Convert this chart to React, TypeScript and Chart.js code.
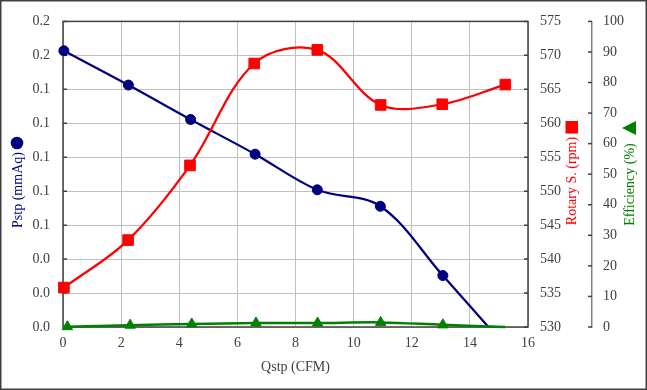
import React, { useEffect, useRef } from 'react';
import { Chart, registerables } from 'chart.js';

Chart.register(...registerables);

// ---- data ----
const qPstp = [0.03, 2.25, 4.39, 6.61, 8.75, 10.92, 13.07, 14.64];
const pstp = [0.1627, 0.1425, 0.1222, 0.1018, 0.0808, 0.0711, 0.0303, 0];
const pstpMarker = [5, 5, 5, 5, 5, 5, 5, 0];

const qRpm = [0.03, 2.24, 4.37, 6.58, 8.75, 10.93, 13.05, 15.22];
const rpm = [535.8, 542.8, 553.8, 568.8, 570.8, 562.7, 562.8, 565.7];

const qEff = [0.15, 2.31, 4.43, 6.64, 8.76, 10.93, 13.07, 15.21];
const eff = [0.1, 0.6, 1.0, 1.3, 1.3, 1.5, 0.7, 0];
const effMarker = [6, 6, 6, 6, 6, 6, 6, 0];

const pstpTickLabels = ['0.0', '0.0', '0.0', '0.1', '0.1', '0.1', '0.1', '0.1', '0.2', '0.2'];

const xTitle = 'Qstp (CFM)';
const pstpTitle = 'Pstp (mmAq)';
const rpmTitle = 'Rotary S. (rpm)';
const effTitle = 'Efficiency (%)';

const NAVY = '#000080';
const RED = '#FF0000';
const GREEN = '#008000';
const TICK = '#404040';
const GRID = '#c0c0c0';
const FONT = '"Liberation Serif", "Times New Roman", serif';

const decorPlugin = {
  id: 'decor',
  beforeDraw(chart: any) {
    const { ctx, width, height } = chart;
    ctx.save();
    ctx.fillStyle = '#ffffff';
    ctx.fillRect(0, 0, width, height);
    ctx.restore();
  },
  beforeDatasetsDraw(chart: any) {
    const { ctx, chartArea } = chart;
    const { left, right, top, bottom } = chartArea;
    ctx.save();
    ctx.strokeStyle = '#404040';
    ctx.lineWidth = 1.5;
    ctx.strokeRect(left, top, right - left, bottom - top);
    // inner tick marks on the plot frame
    const ys = chart.scales.y;
    ctx.lineWidth = 1.5;
    ys.ticks.forEach((t: any) => {
      const py = ys.getPixelForValue(t.value);
      ctx.beginPath();
      ctx.moveTo(left, py);
      ctx.lineTo(left + 4, py);
      ctx.moveTo(right, py);
      ctx.lineTo(right - 4, py);
      ctx.stroke();
    });
    // ticks of the efficiency axis
    const y3 = chart.scales.y3;
    ctx.strokeStyle = '#404040';
    y3.ticks.forEach((t: any) => {
      const py = y3.getPixelForValue(t.value);
      ctx.beginPath();
      ctx.moveTo(y3.left - 4, py);
      ctx.lineTo(y3.left, py);
      ctx.stroke();
    });
    ctx.restore();
  },
  afterDraw(chart: any) {
    const { ctx, width, height } = chart;
    ctx.save();
    ctx.font = '14px ' + FONT;
    ctx.textAlign = 'center';
    ctx.textBaseline = 'middle';
    const drawRot = (text: string, cx: number, cy: number, color: string) => {
      ctx.save();
      ctx.translate(cx, cy);
      ctx.rotate(-Math.PI / 2);
      ctx.fillStyle = color;
      ctx.fillText(text, 0, 0);
      ctx.restore();
    };
    // left title + circle
    drawRot(pstpTitle, 18, 190, NAVY);
    ctx.fillStyle = NAVY;
    ctx.beginPath();
    ctx.arc(17, 143, 6.3, 0, Math.PI * 2);
    ctx.fill();
    // rpm title + square
    drawRot(rpmTitle, 572.5, 181, RED);
    ctx.fillStyle = RED;
    ctx.fillRect(565.5, 121, 12.5, 12.5);
    // efficiency title + triangle
    drawRot(effTitle, 630, 184.5, GREEN);
    ctx.fillStyle = GREEN;
    ctx.beginPath();
    ctx.moveTo(622, 128);
    ctx.lineTo(636, 121);
    ctx.lineTo(636, 135);
    ctx.closePath();
    ctx.fill();
    // outer border
    ctx.strokeStyle = '#404040';
    ctx.lineWidth = 1.5;
    ctx.strokeRect(0.75, 0.75, width - 1.5, height - 1.5);
    ctx.restore();
  },
};

export default function App() {
  const ref = useRef<HTMLCanvasElement | null>(null);

  useEffect(() => {
    document.body.style.margin = '0';
    const canvas = ref.current;
    if (!canvas) return;
    const tickFont = { family: FONT, size: 14 };
    const chart = new Chart(canvas, {
      type: 'line',
      data: {
        datasets: [
          {
            label: pstpTitle,
            data: qPstp.map((x, i) => ({ x, y: pstp[i] })),
            yAxisID: 'y',
            borderColor: NAVY,
            backgroundColor: NAVY,
            borderWidth: 2.25,
            tension: 0.35,
            pointStyle: 'circle',
            pointRadius: pstpMarker,
            pointBorderWidth: 1,
            clip: false,
            order: 2,
          },
          {
            label: rpmTitle,
            data: qRpm.map((x, i) => ({ x, y: rpm[i] })),
            yAxisID: 'y2',
            borderColor: RED,
            backgroundColor: RED,
            borderWidth: 2.25,
            tension: 0.35,
            pointStyle: 'rect',
            pointRadius: 7.5,
            pointBorderWidth: 1,
            clip: false,
            order: 1,
          },
          {
            label: effTitle,
            data: qEff.map((x, i) => ({ x, y: eff[i] })),
            yAxisID: 'y3',
            borderColor: GREEN,
            backgroundColor: GREEN,
            borderWidth: 2.5,
            tension: 0.35,
            pointStyle: 'triangle',
            pointRadius: effMarker,
            pointBorderWidth: 1,
            clip: false,
            order: 0,
          },
        ],
      },
      options: {
        responsive: false,
        animation: false,
        events: [],
        layout: { padding: { top: 19, left: 0, right: 0, bottom: 0 } },
        plugins: {
          legend: { display: false },
          tooltip: { enabled: false },
        },
        scales: {
          x: {
            type: 'linear',
            min: 0,
            max: 16,
            ticks: { stepSize: 2, color: TICK, font: tickFont, padding: 8 },
            grid: { color: GRID, lineWidth: 1, drawTicks: false },
            border: { display: false },
            title: {
              display: true,
              text: xTitle,
              color: TICK,
              font: tickFont,
              padding: { top: 0, bottom: 14 },
            },
            afterFit: (s: any) => {
              s.height = 63;
            },
          },
          y: {
            type: 'linear',
            position: 'left',
            min: 0,
            max: 0.18,
            ticks: {
              stepSize: 0.02,
              color: TICK,
              font: tickFont,
              padding: 13,
              callback: (_v: any, i: number) => pstpTickLabels[i],
            },
            grid: { color: GRID, lineWidth: 1, drawTicks: false },
            border: { display: false },
            afterFit: (s: any) => {
              s.width = 63;
            },
          },
          y2: {
            type: 'linear',
            position: 'right',
            weight: 0,
            min: 530,
            max: 575,
            ticks: { stepSize: 5, color: TICK, font: tickFont, padding: 12 },
            grid: { display: false, drawOnChartArea: false, drawTicks: false },
            border: { display: false },
            afterFit: (s: any) => {
              s.width = 64;
            },
          },
          y3: {
            type: 'linear',
            position: 'right',
            weight: 1,
            min: 0,
            max: 100,
            ticks: { stepSize: 10, color: TICK, font: tickFont, padding: 11 },
            grid: { display: false, drawOnChartArea: false, drawTicks: false },
            border: { display: true, color: '#808080', width: 1.5 },
            afterFit: (s: any) => {
              s.width = 55;
            },
          },
        },
      },
      plugins: [decorPlugin],
    } as any);
    return () => chart.destroy();
  }, []);

  return (
    <div style={{ width: 647, height: 390, position: 'relative' }}>
      <canvas ref={ref} width={647} height={390} style={{ display: 'block' }} />
    </div>
  );
}
